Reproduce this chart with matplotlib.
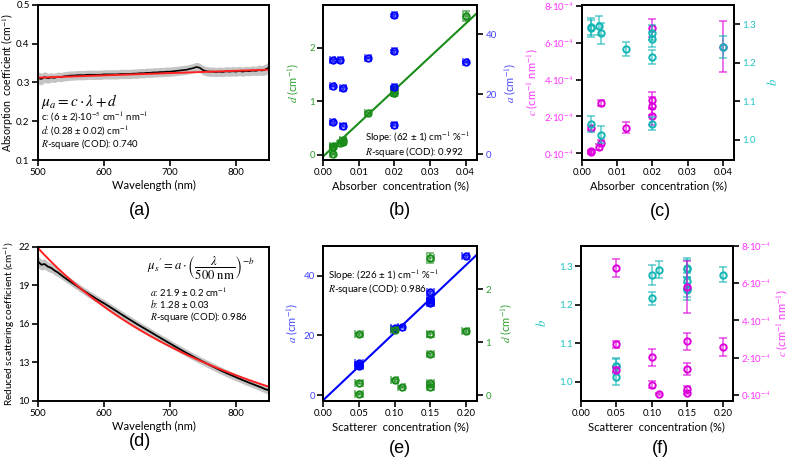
import numpy as np
import matplotlib
matplotlib.use('Agg')
import matplotlib.pyplot as plt
from matplotlib.ticker import FuncFormatter

plt.rcParams['font.family'] = ['Lato', 'DejaVu Sans']
plt.rcParams['mathtext.fontset'] = 'stix'

# ---------------- data ----------------
wl_a = [500, 505, 510, 515, 520, 525, 530, 535, 540, 545, 550, 555, 560, 565, 570, 575, 580, 585, 590, 595,
        600, 605, 610, 615, 620, 625, 630, 635, 640, 645, 650, 655, 660, 665, 670, 675, 680, 685, 690, 695,
        700, 705, 710, 715, 720, 725, 730, 735, 740, 745, 750, 755, 760, 765, 770, 775, 780, 785, 790, 795,
        800, 805, 810, 815, 820, 825, 830, 835, 840, 845, 850]
mua = [0.312, 0.309, 0.314, 0.311, 0.313, 0.312, 0.315, 0.314, 0.316, 0.317, 0.318, 0.318, 0.319, 0.319, 0.319,
       0.320, 0.320, 0.320, 0.320, 0.320, 0.321, 0.321, 0.321, 0.321, 0.321, 0.322, 0.322, 0.322, 0.322, 0.323,
       0.323, 0.324, 0.324, 0.325, 0.325, 0.326, 0.326, 0.327, 0.327, 0.328, 0.328, 0.329, 0.330, 0.331, 0.332,
       0.333, 0.335, 0.337, 0.340, 0.338, 0.332, 0.329, 0.328, 0.328, 0.327, 0.328, 0.327, 0.329, 0.328, 0.329,
       0.328, 0.330, 0.328, 0.330, 0.329, 0.331, 0.330, 0.332, 0.331, 0.334, 0.339]
mua_sd = [0.016, 0.015, 0.014, 0.013] + [0.012] * 63 + [0.013, 0.013, 0.014, 0.015]
fit_a_c = 5.9e-5
fit_a_d = 0.283

wl_d = [500, 505, 510, 515, 520, 525, 530, 535, 540, 550, 560, 570, 580, 590, 600, 610, 620, 630, 640, 650,
        660, 670, 680, 690, 700, 710, 720, 730, 740, 750, 760, 770, 780, 790, 800, 810, 820, 830, 840, 845, 850]
mus = [20.85, 20.6, 20.65, 20.45, 20.35, 20.15, 20.0, 19.8, 19.6, 19.25, 18.9, 18.55, 18.22, 17.9, 17.6,
       17.28, 16.95, 16.62, 16.3, 15.98, 15.68, 15.38, 15.07, 14.77, 14.47, 14.17, 13.88, 13.6, 13.32, 13.06,
       12.8, 12.55, 12.3, 12.07, 11.85, 11.63, 11.42, 11.22, 11.02, 10.9, 10.85]
mus_sd = [0.45, 0.42, 0.4, 0.38, 0.36, 0.34, 0.32, 0.3] + [0.28] * 30 + [0.3, 0.3, 0.32]
fit_d_a = 21.9
fit_d_b = 1.28

absorber = [0.0400, 0.0126, 0.0200, 0.0200, 0.0200, 0.0200, 0.0026, 0.0026, 0.0026, 0.0048, 0.0056, 0.0056]
scatterer = [0.15, 0.15, 0.20, 0.15, 0.10, 0.05, 0.15, 0.11, 0.05, 0.15, 0.10, 0.05]
a_vals = [30.8, 32.1, 46.4, 34.4, 22.3, 9.9, 31.3, 22.8, 10.7, 31.3, 22.0, 9.6]
a_err = [0.4, 0.4, 0.5, 0.5, 0.4, 0.6, 0.4, 0.4, 0.5, 0.4, 0.4, 0.6]
b_vals = [1.241, 1.237, 1.278, 1.261, 1.216, 1.042, 1.293, 1.290, 1.041, 1.296, 1.277, 1.013]
b_err = [0.029, 0.018, 0.020, 0.020, 0.018, 0.017, 0.022, 0.022, 0.020, 0.025, 0.027, 0.022]
c_vals = [5.78, 1.40, 2.57, 2.88, 2.02, 6.80, 0.12, 0.05, 1.36, 0.34, 0.56, 2.72]   # x 1e-4
c_err = [1.38, 0.32, 0.50, 0.46, 0.46, 0.47, 0.08, 0.06, 0.12, 0.15, 0.17, 0.18]
d_vals = [2.59, 0.77, 1.21, 1.145, 1.23, 1.145, 0.16, 0.145, 0.02, 0.22, 0.28, 0.23]
d_err = [0.09, 0.03, 0.03, 0.04, 0.03, 0.03, 0.02, 0.02, 0.02, 0.03, 0.03, 0.03]
abs_xerr = 0.0008
sca_xerr = 0.005

slope_b, icpt_b = 62.0, -0.03
slope_e, icpt_e = 226.0, -1.7

# ---------------- style ----------------
GREEN = '#1a8c1a'
GREEN_T = '#2e9e2e'
BLUE = '#0000ff'
BLUE_T = '#4444ff'
MAG = '#dd00dd'
MAG_T = '#ff33ff'
CYAN = '#13b5b5'
CYAN_T = '#22c4c4'
TICK_FS = 7
LAB_FS = 8
ANN_FS = 6.9
ANN_FS2 = 7.0

W, H = 789, 465
fig = plt.figure(figsize=(W / 100, H / 100), dpi=100)


def rect(l, r, t, b):
    return [l / W, 1 - b / H, (r - l) / W, (b - t) / H]


def style(ax):
    for s in ax.spines.values():
        s.set_linewidth(1.4)
    ax.tick_params(direction='out', length=4, width=1.2, labelsize=TICK_FS, pad=2)


def ebar(ax, x, y, xerr, yerr, col, z=3):
    ax.errorbar(x, y, xerr=xerr, yerr=yerr, fmt='none', ecolor=col, elinewidth=1.1,
                capsize=3, capthick=1.1, alpha=0.7, zorder=z)
    ax.plot(x, y, 'o', mfc='none', mec=col, ms=4.6, mew=1.4, zorder=z + 1)


sci = FuncFormatter(lambda v, p: '%d·10$^{-4}$' % int(round(v)))
f2 = FuncFormatter(lambda v, p: '%.2f' % v)
f1 = FuncFormatter(lambda v, p: '%.1f' % v)

# ---------------- (a) ----------------
ax = fig.add_axes(rect(38, 269, 5, 160))
style(ax)
wa = np.array(wl_a)
ma = np.array(mua)
sa = np.array(mua_sd)
ax.fill_between(wa, ma - sa, ma + sa, color='#c4c4c4', lw=0)
ax.plot(wa, ma, color='black', lw=1.2)
ax.plot(wa, fit_a_c * wa + fit_a_d, color='#ff2020', lw=1.4)
ax.set_xlim(500, 850)
ax.set_ylim(0.1, 0.5)
ax.set_xticks([500, 600, 700, 800])
ax.set_yticks([0.1, 0.2, 0.3, 0.4, 0.5])
ax.set_xlabel('Wavelength (nm)', fontsize=LAB_FS, labelpad=2)
ax.set_ylabel('Absorption  coefficient (cm$^{-1}$)', fontsize=7.6, labelpad=1)
ax.text(0.012, 0.375, r'$\mu_a = c \cdot \lambda + d$', transform=ax.transAxes, fontsize=11, va='center')
ax.text(0.014, 0.277, 'c: (6 ± 2)·10$^{-5}$ cm$^{-1}$ nm$^{-1}$', transform=ax.transAxes, fontsize=ANN_FS, va='center')
ax.text(0.014, 0.19, '$d$: (0.28 ± 0.02) cm$^{-1}$', transform=ax.transAxes, fontsize=ANN_FS, va='center')
ax.text(0.014, 0.103, '$R$-square (COD): 0.740', transform=ax.transAxes, fontsize=ANN_FS, va='center')

# ---------------- (b) ----------------
ax = fig.add_axes(rect(323.3, 477.3, 5, 160))
style(ax)
ax2 = ax.twinx()
style(ax2)
ax.set_xlim(0, 0.0433)
ax.set_ylim(-0.1, 2.8)
ax2.set_ylim(-1.9, 49.8)
xl = np.array(ax.get_xlim())
ax.plot(xl, slope_b * xl + icpt_b, color=GREEN, lw=1.5, zorder=2)
ebar(ax, absorber, d_vals, abs_xerr, d_err, GREEN)
ebar(ax2, absorber, a_vals, abs_xerr, a_err, BLUE)
ax.set_xticks([0, 0.01, 0.02, 0.03, 0.04])
ax.xaxis.set_major_formatter(f2)
ax.set_yticks([0, 1, 2])
ax2.set_yticks([0, 20, 40])
ax.tick_params(axis='y', labelcolor=GREEN_T)
ax2.tick_params(axis='y', labelcolor=BLUE_T)
ax.set_xlabel('Absorber  concentration (%)', fontsize=LAB_FS, labelpad=2)
ax.set_ylabel('$d$ (cm$^{-1}$)', fontsize=LAB_FS, color=GREEN_T, labelpad=6)
ax2.set_ylabel('$a$ (cm$^{-1}$)', fontsize=LAB_FS, color=BLUE_T, labelpad=4)
ax2.text(0.27, 0.145, 'Slope: (62 ± 1) cm$^{-1}$ %$^{-1}$', transform=ax.transAxes, fontsize=ANN_FS2, va='center')
ax2.text(0.27, 0.05, '$R$-square (COD): 0.992', transform=ax.transAxes, fontsize=ANN_FS2, va='center')

# ---------------- (c) ----------------
ax = fig.add_axes(rect(581.7, 734.3, 5, 160))
style(ax)
ax2 = ax.twinx()
style(ax2)
ax.set_xlim(0, 0.0432)
ax.set_ylim(-0.36, 8.04)
ax2.set_ylim(0.948, 1.35)
ebar(ax, absorber, c_vals, None, c_err, MAG)
ebar(ax2, absorber, b_vals, None, b_err, CYAN)
ax.set_xticks([0, 0.01, 0.02, 0.03, 0.04])
ax.xaxis.set_major_formatter(f2)
ax.set_yticks([0, 2, 4, 6, 8])
ax.yaxis.set_major_formatter(sci)
ax2.set_yticks([1.0, 1.1, 1.2, 1.3])
ax2.yaxis.set_major_formatter(f1)
ax.tick_params(axis='y', labelcolor=MAG_T)
ax2.tick_params(axis='y', labelcolor=CYAN_T)
ax.set_xlabel('Absorber  concentration (%)', fontsize=LAB_FS, labelpad=2)
ax.set_ylabel('$c$ (cm$^{-1}$ nm$^{-1}$)', fontsize=LAB_FS, color=MAG_T, labelpad=3)
ax2.set_ylabel('$b$', fontsize=LAB_FS + 1, color=CYAN_T, labelpad=6)

# ---------------- (d) ----------------
ax = fig.add_axes(rect(38, 269, 246.7, 401))
style(ax)
wd = np.array(wl_d)
md = np.array(mus)
sd = np.array(mus_sd)
ax.fill_between(wd, md - sd, md + sd, color='#c4c4c4', lw=0)
ax.plot(wd, md, color='black', lw=1.3)
ax.plot(wd, fit_d_a * (wd / 500.0) ** (-fit_d_b), color='#ff2020', lw=1.4)
ax.set_xlim(500, 850)
ax.set_ylim(10, 22)
ax.set_xticks([500, 600, 700, 800])
ax.set_yticks([10, 13, 16, 19, 22])
ax.set_xlabel('Wavelength (nm)', fontsize=LAB_FS, labelpad=2)
ax.set_ylabel('Reduced scattering coefficient (cm$^{-1}$)', fontsize=7.2, labelpad=1)
ax.text(0.47, 0.868, r"$\mu_s{}' = a \cdot \left(\dfrac{\lambda}{500\ \mathrm{nm}}\right)^{-b}$",
        transform=ax.transAxes, fontsize=9.2, va='center')
ax.text(0.485, 0.705, '$a$: 21.9 ± 0.2 cm$^{-1}$', transform=ax.transAxes, fontsize=ANN_FS, va='center')
ax.text(0.485, 0.627, '$b$: 1.28 ± 0.03', transform=ax.transAxes, fontsize=ANN_FS, va='center')
ax.text(0.485, 0.545, '$R$-square (COD): 0.986', transform=ax.transAxes, fontsize=ANN_FS, va='center')

# ---------------- (e) ----------------
ax = fig.add_axes(rect(323.3, 477.3, 245.7, 401))
style(ax)
ax2 = ax.twinx()
style(ax2)
ax.set_xlim(0, 0.216)
ax.set_ylim(-2.0, 50.0)
ax2.set_ylim(-0.113, 2.82)
xl = np.array(ax.get_xlim())
ax.plot(xl, slope_e * xl + icpt_e, color=BLUE, lw=1.5, zorder=2)
ebar(ax, scatterer, a_vals, sca_xerr, a_err, BLUE)
ebar(ax2, scatterer, d_vals, sca_xerr, d_err, GREEN)
ax.set_xticks([0, 0.05, 0.10, 0.15, 0.20])
ax.xaxis.set_major_formatter(f2)
ax.set_yticks([0, 20, 40])
ax2.set_yticks([0, 1, 2])
ax.tick_params(axis='y', labelcolor=BLUE_T)
ax2.tick_params(axis='y', labelcolor=GREEN_T)
ax.set_xlabel('Scatterer  concentration (%)', fontsize=LAB_FS, labelpad=2)
ax.set_ylabel('$a$ (cm$^{-1}$)', fontsize=LAB_FS, color=BLUE_T, labelpad=3)
ax2.set_ylabel('$d$ (cm$^{-1}$)', fontsize=LAB_FS, color=GREEN_T, labelpad=5)
ax2.text(0.029, 0.812, 'Slope: (226 ± 1) cm$^{-1}$ %$^{-1}$', transform=ax.transAxes, fontsize=ANN_FS2, va='center')
ax2.text(0.029, 0.722, '$R$-square (COD): 0.986', transform=ax.transAxes, fontsize=ANN_FS2, va='center')

# ---------------- (f) ----------------
ax = fig.add_axes(rect(581, 732.7, 245.7, 401))
style(ax)
ax2 = ax.twinx()
style(ax2)
ax.set_xlim(0, 0.214)
ax.set_ylim(0.95, 1.353)
ax2.set_ylim(-0.32, 8.0)
ebar(ax, scatterer, b_vals, None, b_err, CYAN)
ebar(ax2, scatterer, c_vals, None, c_err, MAG)
ax.set_xticks([0, 0.05, 0.10, 0.15, 0.20])
ax.xaxis.set_major_formatter(f2)
ax.set_yticks([1.0, 1.1, 1.2, 1.3])
ax.yaxis.set_major_formatter(f1)
ax2.set_yticks([0, 2, 4, 6, 8])
ax2.yaxis.set_major_formatter(sci)
ax.tick_params(axis='y', labelcolor=CYAN_T)
ax2.tick_params(axis='y', labelcolor=MAG_T)
ax.set_xlabel('Scatterer  concentration (%)', fontsize=LAB_FS, labelpad=2)
ax.set_ylabel('$b$', fontsize=LAB_FS + 1, color=CYAN_T, labelpad=8)
ax2.set_ylabel('$c$ (cm$^{-1}$ nm$^{-1}$)', fontsize=LAB_FS, color=MAG_T, labelpad=3)

# ---------------- panel labels ----------------
for lab, x, y in [('(a)', 140, 210.7), ('(b)', 400, 210), ('(c)', 660, 211),
                  ('(d)', 140, 441.5), ('(e)', 400, 448), ('(f)', 660, 448)]:
    fig.text(x / W, 1 - y / H, lab, fontsize=13, ha='center', va='center', family='Liberation Sans')

fig.savefig('out.png', dpi=100)
